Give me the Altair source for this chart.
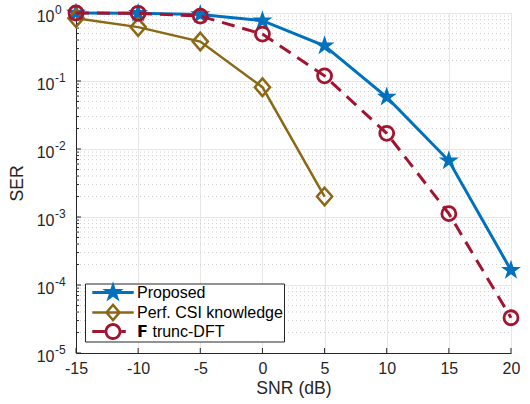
import math
import altair as alt
import pandas as pd

# ---------------- data ----------------
snr = [-15, -10, -5, 0, 5, 10, 15, 20]
proposed = [1.0, 0.99, 0.95, 0.77, 0.33, 0.058, 0.0067, 1.65e-4]
snr_perf = [-15, -10, -5, 0, 5]
perfect = [0.84, 0.62, 0.38, 0.081, 0.0020]
trunc = [1.0, 0.99, 0.90, 0.49, 0.119, 0.017, 0.00112, 3.3e-5]

names = ["Proposed", "Perf. CSI knowledge", "\U0001D5D9 trunc-DFT"]
colors = ["#0072BD", "#8B6914", "#A2142F"]

x_ticks = [-15, -10, -5, 0, 5, 10, 15, 20]
y_ticks = [1e-5, 1e-4, 1e-3, 1e-2, 1e-1, 1.0]
y_exp = ["-5", "-4", "-3", "-2", "-1", "0"]
y_minor = [m * 10.0 ** k for k in range(-5, 0) for m in range(2, 10)]

FONT = "Liberation Sans"
W, H = 435, 340

df_prop = pd.DataFrame({"snr": snr, "ser": proposed, "series": names[0]})
df_perf = pd.DataFrame({"snr": snr_perf, "ser": perfect, "series": names[1]})
df_trunc = pd.DataFrame({"snr": snr, "ser": trunc, "series": names[2]})
df_all = pd.concat([df_prop, df_perf, df_trunc], ignore_index=True)


def fmt(pts):
    return "M" + "L".join(f"{x:.3f},{y:.3f}" for x, y in pts) + "Z"


def star(r):
    pts = []
    for i in range(10):
        a = math.radians(-90 + 36 * i)
        rr = r if i % 2 == 0 else r * 0.382
        pts.append((rr * math.cos(a), rr * math.sin(a)))
    return fmt(pts)


def rect(x0, x1, h):  # clockwise on screen
    return fmt([(x0, -h), (x1, -h), (x1, h), (x0, h)])


def diamond_ring(a, b, ia, ib):
    outer = fmt([(0, -b), (a, 0), (0, b), (-a, 0)])
    inner = fmt([(0, -ib), (-ia, 0), (0, ib), (ia, 0)])
    return outer + inner


def circle_ring(r, ri):
    outer = f"M{r},0A{r},{r},0,1,1,{-r},0A{r},{r},0,1,1,{r},0Z"
    inner = f"M{ri},0A{ri},{ri},0,1,0,{-ri},0A{ri},{ri},0,1,0,{ri},0Z"
    return outer + inner


STAR = star(1.0)
DIAMOND = "M0,-1.1L0.95,0L0,1.1L-0.95,0Z"

# legend glyphs (units of 8 px): filled shapes only, no stroke
L = 2.59
LEG_STAR = star(1.4) + rect(-L, L, 0.19)
LEG_DIAM = diamond_ring(1.025, 1.19, 0.61, 0.71) + rect(-L, L, 0.16)
LEG_CIRC = circle_ring(1.05, 0.7) + rect(-L, -1.05, 0.19) + rect(1.05, 1.6, 0.19)

XS = alt.Scale(domain=[-15, 20], nice=False, zero=False)
YS = alt.Scale(type="log", domain=[1e-5, 1], nice=False)

X_AX = alt.Axis(
    values=x_ticks, labelExpr="'' + datum.value", grid=True, gridColor="#e6e6e6",
    ticks=False, labelPadding=7, labelFontSize=16, labelFont=FONT,
    labelColor="#262626", domainColor="#262626", titleFont=FONT,
    titleFontSize=17.6, titleFontWeight="normal", titleColor="#262626",
    titlePadding=3, labelFlush=False)
Y_AX = alt.Axis(
    values=y_ticks, labelExpr="'10'", labelOffset=3,
    grid=True, gridColor="#e6e6e6", ticks=False, labelPadding=22,
    labelFontSize=16, labelFont=FONT, labelColor="#262626",
    domainColor="#262626", titleFont=FONT, titleFontSize=17.6,
    titleFontWeight="normal", titleColor="#262626", titlePadding=10,
    labelFlush=False)


def X(field):
    return alt.X(field, scale=XS, axis=X_AX, title="SNR (dB)")


def Y(field):
    return alt.Y(field, scale=YS, axis=Y_AX, title="SER")


# ---------------- grid / ticks / exponents ----------------
minor_grid = alt.Chart(pd.DataFrame({"v": y_minor})).mark_rule(
    color="#cfcfcf", strokeWidth=1, strokeDash=[1, 3]
).encode(y=Y("v:Q"), x=alt.value(0), x2=alt.value(W))

x_tick_marks = alt.Chart(pd.DataFrame({"v": x_ticks})).mark_rule(
    color="#262626", strokeWidth=1
).encode(x=X("v:Q"), y=alt.value(H), y2=alt.value(H - 5))

y_tick_marks = alt.Chart(pd.DataFrame({"v": y_ticks})).mark_rule(
    color="#262626", strokeWidth=1
).encode(y=Y("v:Q"), x=alt.value(0), x2=alt.value(5))

y_minor_ticks = alt.Chart(pd.DataFrame({"v": y_minor})).mark_rule(
    color="#262626", strokeWidth=1
).encode(y=Y("v:Q"), x=alt.value(0), x2=alt.value(3))

y_exponents = alt.Chart(pd.DataFrame({"v": y_ticks, "e": y_exp})).mark_text(
    align="left", baseline="middle", dy=-3, fontSize=12, font=FONT, color="#262626"
).encode(y=Y("v:Q"), x=alt.value(-21), text="e:N")

# ---------------- series ----------------
line_prop = alt.Chart(df_prop).mark_line(color=colors[0], strokeWidth=3).encode(x=X("snr:Q"), y=Y("ser:Q"))
pts_prop = alt.Chart(df_prop).mark_point(
    shape=STAR, size=441, filled=True, color=colors[0], opacity=1
).encode(x=X("snr:Q"), y=Y("ser:Q"))

line_perf = alt.Chart(df_perf).mark_line(color=colors[1], strokeWidth=2.5).encode(x=X("snr:Q"), y=Y("ser:Q"))
pts_perf = alt.Chart(df_perf).mark_point(
    shape=DIAMOND, size=256, filled=False, color=colors[1], strokeWidth=2.5, opacity=1
).encode(x=X("snr:Q"), y=Y("ser:Q"))

line_trunc = alt.Chart(df_trunc).mark_line(
    color=colors[2], strokeWidth=3, strokeDash=[13, 8]
).encode(x=X("snr:Q"), y=Y("ser:Q"))
pts_trunc = alt.Chart(df_trunc).mark_point(
    shape="circle", size=196, filled=False, color=colors[2], strokeWidth=2.8, opacity=1
).encode(x=X("snr:Q"), y=Y("ser:Q"))

# ---------------- legend (driven by an empty layer) ----------------
leg = alt.Legend(
    title=None, orient="none", legendX=9, legendY=270.5, fillColor="white",
    strokeColor="#262626", padding=1, cornerRadius=0, labelFont=FONT,
    labelFontSize=16, labelColor="#000000", symbolSize=256,
    symbolStrokeWidth=0, symbolOffset=19, labelOffset=16, rowPadding=0,
    symbolOpacity=1, labelExpr="datum.label + '\u2002'",
)
legend_layer = alt.Chart(df_all).mark_point(opacity=1, filled=True).encode(
    x=X("snr:Q"), y=Y("ser:Q"),
    shape=alt.Shape("series:N", scale=alt.Scale(domain=names, range=[LEG_STAR, LEG_DIAM, LEG_CIRC]), legend=leg),
    fill=alt.Fill("series:N", scale=alt.Scale(domain=names, range=colors), legend=leg),
).transform_filter("false")

chart = alt.layer(
    minor_grid, x_tick_marks, y_tick_marks, y_minor_ticks, y_exponents,
    line_prop, pts_prop, line_perf, pts_perf, line_trunc, pts_trunc, legend_layer,
).properties(
    width=W, height=H,
    autosize=alt.AutoSizeParams(type="none"),
    padding={"left": 76, "top": 13, "right": 19, "bottom": 51},
).configure_view(stroke=None).configure(background="white")

chart.save("out.html", embed_options={"renderer": "svg", "actions": False})
